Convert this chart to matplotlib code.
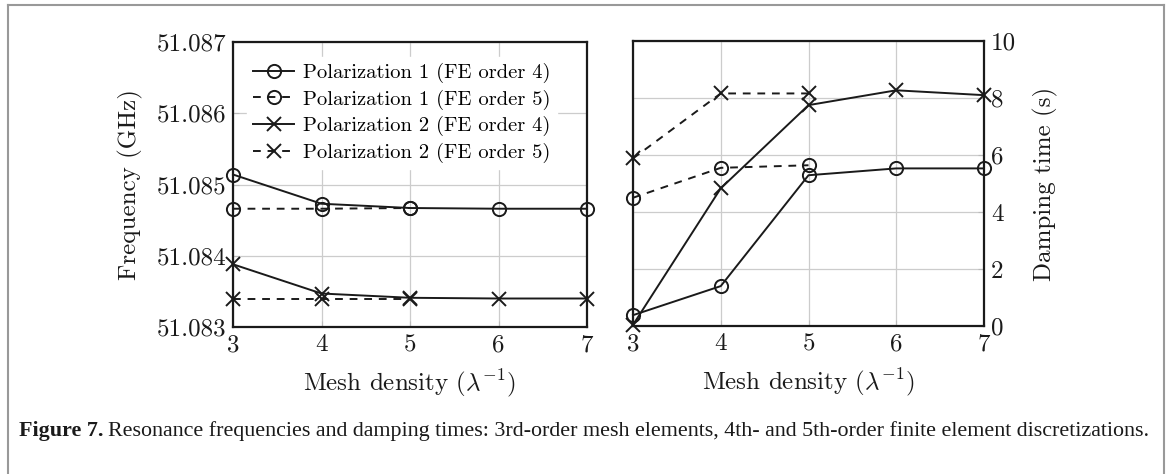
import matplotlib
matplotlib.use("Agg")
import matplotlib.pyplot as plt
from matplotlib.lines import Line2D

plt.rcParams['font.family'] = ['cmr10', 'DejaVu Serif']
plt.rcParams['mathtext.fontset'] = 'cm'
plt.rcParams['axes.formatter.use_mathtext'] = True

mesh = [3, 4, 5, 6, 7]
mesh_fe5 = [3, 4, 5]

# Frequencies (GHz)
freq_p1_fe4 = [51.08514, 51.08473, 51.08467, 51.08466, 51.08466]
freq_p1_fe5 = [51.08466, 51.08466, 51.08467]
freq_p2_fe4 = [51.08388, 51.08347, 51.08341, 51.08340, 51.08340]
freq_p2_fe5 = [51.08340, 51.08340, 51.08340]

# Damping times (s)
damp_p1_fe4 = [0.38, 1.40, 5.29, 5.53, 5.53]
damp_p1_fe5 = [4.50, 5.55, 5.64]
damp_p2_fe4 = [0.04, 4.83, 7.75, 8.27, 8.10]
damp_p2_fe5 = [5.88, 8.16, 8.16]

labels = ['Polarization 1 (FE order 4)', 'Polarization 1 (FE order 5)',
          'Polarization 2 (FE order 4)', 'Polarization 2 (FE order 5)']
freq_ticks = [51.083, 51.084, 51.085, 51.086, 51.087]
freq_ticklabels = ['51.083', '51.084', '51.085', '51.086', '51.087']
damp_ticks = [0, 2, 4, 6, 8, 10]
xticks = [3, 4, 5, 6, 7]
xlabel = r'Mesh density ($\lambda^{-1}$)'

W, H = 1170, 474
fig = plt.figure(figsize=(W / 100, H / 100), dpi=100)

def rect(l, r, t, b):
    return [l / W, 1 - b / H, (r - l) / W, (b - t) / H]

axL = fig.add_axes(rect(233, 587, 42, 327))
axR = fig.add_axes(rect(633, 984, 41, 326))

lw = 1.4
ms_o = 9.5
ms_x = 10
common = dict(color='#1a1a1a', lw=lw, clip_on=False, zorder=3)
mo = dict(marker='o', mfc='none', mec='#1a1a1a', mew=1.4, ms=ms_o)
mx = dict(marker='x', mec='#1a1a1a', mew=1.4, ms=ms_x)

for ax, s1, s2, s3, s4 in [(axL, freq_p1_fe4, freq_p1_fe5, freq_p2_fe4, freq_p2_fe5),
                           (axR, damp_p1_fe4, damp_p1_fe5, damp_p2_fe4, damp_p2_fe5)]:
    ax.plot(mesh, s1, ls='-', label=labels[0], **common, **mo)
    ax.plot(mesh_fe5, s2, ls=(0, (4, 3.5)), label=labels[1], **common, **mo)
    ax.plot(mesh, s3, ls='-', label=labels[2], **common, **mx)
    ax.plot(mesh_fe5, s4, ls=(0, (4, 3.5)), label=labels[3], **common, **mx)
    ax.set_xlim(3, 7)
    ax.set_xticks(xticks)
    ax.set_xticklabels([str(v) for v in xticks])
    ax.grid(True, color='#cccccc', lw=0.9)
    ax.set_axisbelow(True)
    for sp in ax.spines.values():
        sp.set_linewidth(1.6)
        sp.set_color('#1a1a1a')
    ax.tick_params(direction='in', length=4, width=0.8, colors='#bbbbbb',
                   labelcolor='#1a1a1a', labelsize=18, pad=5)
    ax.set_xlabel(xlabel, fontsize=18, color='#1a1a1a', labelpad=8)

axL.set_ylim(51.083, 51.087)
axL.set_yticks(freq_ticks)
axL.set_yticklabels(freq_ticklabels)
axL.set_ylabel('Frequency (GHz)', fontsize=18, color='#1a1a1a', labelpad=10)

axR.set_ylim(0, 10)
axR.set_yticks(damp_ticks)
axR.set_yticklabels([str(v) for v in damp_ticks])
axR.yaxis.tick_right()
axR.yaxis.set_label_position('right')
axR.tick_params(axis='y', left=False, right=True)
axR.set_ylabel('Damping time (s)', fontsize=18, color='#1a1a1a', labelpad=12)

leg = axL.legend(loc='upper left', bbox_to_anchor=(0.01, 0.985), fontsize=14.8,
                 frameon=True, fancybox=False, edgecolor='white', framealpha=1,
                 handlelength=2.0, handletextpad=0.45, labelspacing=0.32,
                 borderpad=0.3)
leg.set_zorder(5)

# Outer frame (open at the bottom)
frame_kw = dict(color='#999999', lw=1.5, transform=fig.transFigure)
fig.add_artist(Line2D([8 / W, 8 / W], [0, 1 - 5 / H], **frame_kw))
fig.add_artist(Line2D([8 / W, 1164 / W], [1 - 5 / H, 1 - 5 / H], **frame_kw))
fig.add_artist(Line2D([1164 / W, 1164 / W], [0, 1 - 5 / H], **frame_kw))

# Caption
cap_y = 1 - 431 / H
t1 = fig.text(19 / W, cap_y, 'Figure 7.', fontsize=15.8, fontweight='bold',
              family='Liberation Serif', va='center', color='#1a1a1a')
fig.canvas.draw()
bb = t1.get_window_extent()
fig.text(bb.x1 / W + 5 / W, cap_y,
         'Resonance frequencies and damping times: 3rd-order mesh elements, '
         '4th- and 5th-order finite element discretizations.',
         fontsize=15.8, family='Liberation Serif', va='center', color='#1a1a1a')

fig.savefig('out.png', dpi=100)
